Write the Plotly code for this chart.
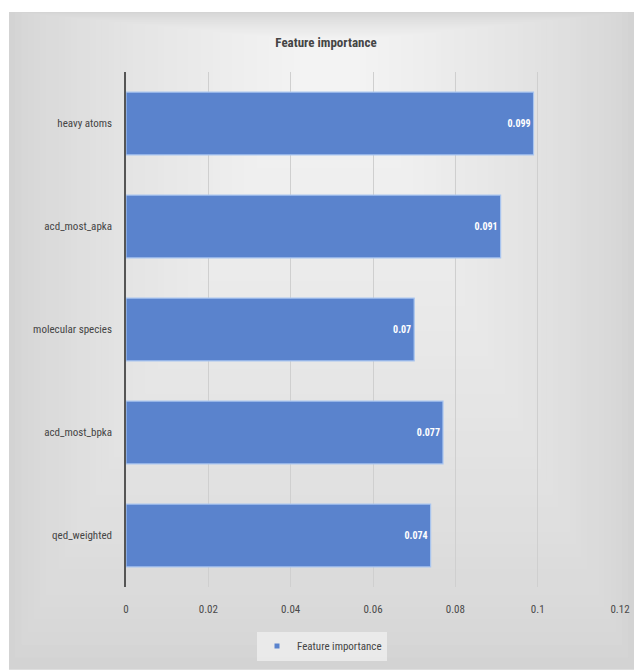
import plotly.graph_objects as go

# Feature importance scores (top to bottom)
features = ["heavy atoms", "acd_most_apka", "molecular species", "acd_most_bpka", "qed_weighted"]
importance = [0.099, 0.091, 0.07, 0.077, 0.074]
x_ticks = [0, 0.02, 0.04, 0.06, 0.08, 0.1, 0.12]
x_tick_labels = ["0", "0.02", "0.04", "0.06", "0.08", "0.1", "0.12"]
series_name = "Feature importance"

W, H = 641, 671
ML, MR, MT, MB = 126, 21, 72, 83
PW, PH = W - ML - MR, H - MT - MB

FONT = "Liberation Sans Narrow, Arial Narrow, Roboto Condensed, Liberation Sans, sans-serif"
BAR_COLOR = "#5a83cd"


def fx(px):
    return (px - ML) / PW


def fy(py):
    return 1 - (py - MT) / PH


# soft grey panel behind the chart, lighter toward the top centre
shapes = []
outer = (9, 12, 634, 671)
inner = (300, 40, 360, 80)
steps = 48
c0, c1 = 0xd3, 0xf3
for i in range(steps):
    t = i / (steps - 1)
    x0 = outer[0] + (inner[0] - outer[0]) * t
    y0 = outer[1] + (inner[1] - outer[1]) * t
    x1 = outer[2] + (inner[2] - outer[2]) * t
    y1 = outer[3] + (inner[3] - outer[3]) * t
    g = round(c0 + (c1 - c0) * t ** 0.7)
    shapes.append(dict(
        type="rect", xref="paper", yref="paper",
        x0=fx(x0), x1=fx(x1), y0=fy(y1), y1=fy(y0),
        fillcolor=f"rgb({g},{g},{g})", line=dict(width=0), layer="below",
    ))

fig = go.Figure()
fig.add_trace(go.Bar(
    x=importance,
    y=features,
    orientation="h",
    name=series_name,
    showlegend=False,
    marker=dict(color=BAR_COLOR, line=dict(color="#a9c5ef", width=1.2)),
    text=[str(v) for v in importance],
    textposition="inside",
    insidetextanchor="end",
    textfont=dict(color="white", size=10, family=FONT),
    texttemplate="<b>%{text}</b>",
))
# compact legend key with a small square swatch
fig.add_trace(go.Scatter(
    x=[None], y=[None],
    mode="markers",
    name=series_name,
    marker=dict(symbol="square", size=5, color=BAR_COLOR),
    showlegend=True,
))

fig.update_layout(
    width=W, height=H,
    margin=dict(l=ML, r=MR, t=MT, b=MB),
    paper_bgcolor="white",
    plot_bgcolor="rgba(0,0,0,0)",
    shapes=shapes,
    bargap=0.39,
    title=dict(
        text="<b>Feature importance</b>",
        x=fx(326), xanchor="center", xref="paper",
        y=1 - 42 / H, yanchor="middle",
        font=dict(size=13, color="#454545", family=FONT),
    ),
    xaxis=dict(
        range=[0, 0.12],
        tickvals=x_ticks,
        ticktext=x_tick_labels,
        showgrid=True,
        gridcolor="#cfcfcf",
        gridwidth=1,
        zeroline=False,
        showline=False,
        ticks="",
        tickfont=dict(size=11, color="#4a4a4a", family=FONT),
        ticklabelstandoff=14,
    ),
    yaxis=dict(
        categoryorder="array",
        categoryarray=features,
        autorange="reversed",
        showline=True,
        linecolor="#555555",
        linewidth=1.5,
        showgrid=False,
        ticks="",
        tickfont=dict(size=11, color="#454545", family=FONT),
        ticklabelstandoff=10,
    ),
    showlegend=True,
    legend=dict(
        orientation="h",
        x=fx(322), xanchor="center",
        y=fy(646), yanchor="middle",
        bgcolor="rgba(242,242,242,0.7)",
        itemwidth=30,
        font=dict(size=11, color="#454545", family=FONT),
    ),
)

fig.write_html("out.html")
